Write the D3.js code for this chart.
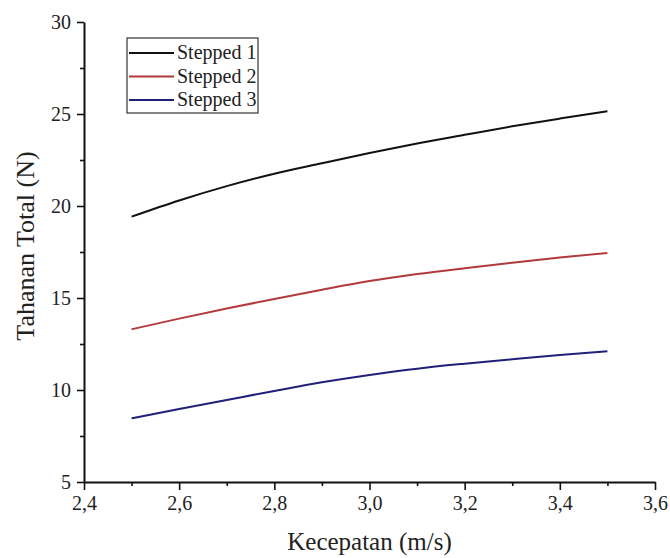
<!DOCTYPE html>
<html><head><meta charset="utf-8">
<script src="https://cdn.jsdelivr.net/npm/d3@7"></script>
<style>
html,body{margin:0;padding:0;background:#fff;}
svg{display:block;font-family:"Liberation Serif","Times New Roman",serif;}
</style></head>
<body><svg id="c" width="670" height="558"></svg>
<script>
const speeds = [2.5, 2.6, 2.7, 2.8, 2.9, 3.0, 3.1, 3.2, 3.3, 3.4, 3.5];
const stepped1 = [19.42, 20.3, 21.08, 21.75, 22.32, 22.88, 23.4, 23.87, 24.33, 24.75, 25.15];
const stepped2 = [13.3, 13.88, 14.43, 14.95, 15.45, 15.92, 16.3, 16.62, 16.92, 17.2, 17.45];
const stepped3 = [8.46, 8.97, 9.46, 9.95, 10.42, 10.82, 11.16, 11.43, 11.67, 11.9, 12.1];
const seriesNames = ["Stepped 1", "Stepped 2", "Stepped 3"];
const seriesColors = ["#111111", "#b33a3c", "#20207a"];
const xTicks = [2.4, 2.6, 2.8, 3.0, 3.2, 3.4, 3.6];
const yTicks = [5, 10, 15, 20, 25, 30];
const xLabel = "Kecepatan (m/s)";
const yLabel = "Tahanan Total (N)";

const svg = d3.select("#c");
const L = 84, R = 655, T = 22, B = 482;
const x = d3.scaleLinear().domain([2.4, 3.6]).range([L, R]);
const y = d3.scaleLinear().domain([5, 30]).range([B, T]);
const fmt = d => d3.format(".1f")(d).replace(".", ",");

// minor ticks
const xMinor = d3.range(2.5, 3.6, 0.2);
const yMinor = d3.range(7.5, 30, 5);

svg.append("g").attr("transform", `translate(0,${B})`)
  .call(d3.axisBottom(x).tickValues(xTicks).tickFormat(fmt).tickSize(8).tickSizeOuter(0).tickPadding(6));
svg.append("g").attr("transform", `translate(0,${B})`)
  .call(d3.axisBottom(x).tickValues(xMinor).tickFormat("").tickSize(4).tickSizeOuter(0))
  .select(".domain").remove();
svg.append("g").attr("transform", `translate(${L},0)`)
  .call(d3.axisLeft(y).tickValues(yTicks).tickSize(7).tickSizeOuter(0).tickPadding(6));
svg.append("g").attr("transform", `translate(${L},0)`)
  .call(d3.axisLeft(y).tickValues(yMinor).tickFormat("").tickSize(4).tickSizeOuter(0))
  .select(".domain").remove();

svg.selectAll(".domain").attr("stroke", "#111").attr("stroke-width", 2);
svg.selectAll(".tick line").attr("stroke", "#111").attr("stroke-width", 1.6);
svg.selectAll(".tick text").attr("font-size", 20).attr("fill", "#222")
  .attr("font-family", "'Liberation Serif','Times New Roman',serif");

svg.append("text").attr("x", (L + R) / 2).attr("y", 550).attr("text-anchor", "middle")
  .attr("font-size", 25).attr("fill", "#222").text(xLabel);
svg.append("text").attr("transform", `translate(34,246) rotate(-90)`)
  .attr("text-anchor", "middle").attr("font-size", 26).attr("fill", "#222").text(yLabel);

const data = [stepped1, stepped2, stepped3];
const line = d3.line().x((d, i) => x(speeds[i])).y(d => y(d)).curve(d3.curveMonotoneX);
data.forEach((s, k) => {
  svg.append("path").datum(s).attr("d", line).attr("fill", "none")
    .attr("stroke", seriesColors[k]).attr("stroke-width", 2);
});

// legend
const lg = svg.append("g");
lg.append("rect").attr("x", 127).attr("y", 38).attr("width", 131).attr("height", 75)
  .attr("fill", "#fff").attr("stroke", "#333").attr("stroke-width", 1.2);
seriesNames.forEach((n, k) => {
  const cy = 53 + k * 23.5;
  lg.append("line").attr("x1", 129).attr("x2", 174).attr("y1", cy).attr("y2", cy)
    .attr("stroke", seriesColors[k]).attr("stroke-width", 2);
  lg.append("text").attr("x", 177).attr("y", cy + 6).attr("font-size", 20)
    .attr("fill", "#222").text(n);
});
</script></body></html>
